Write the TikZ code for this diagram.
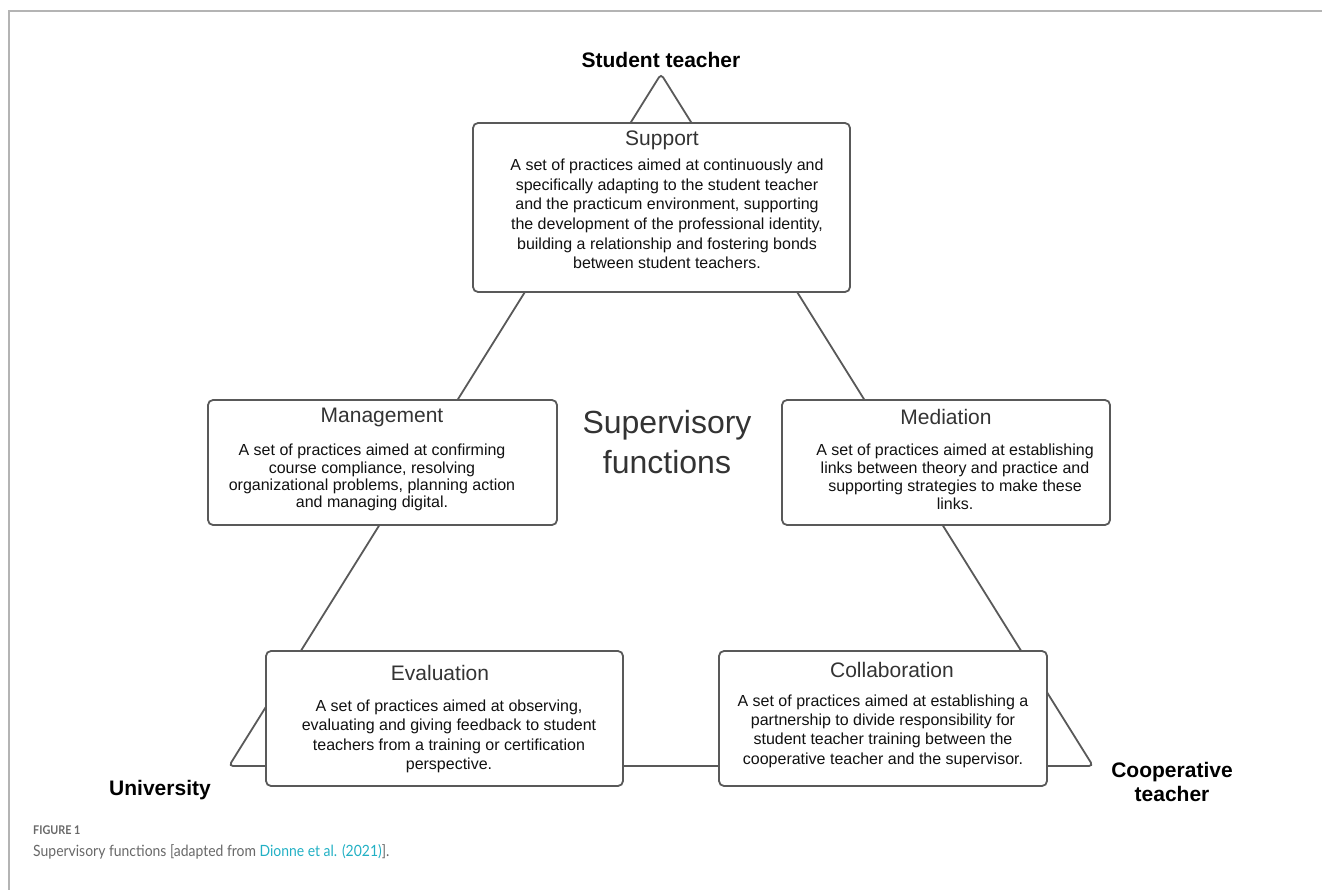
\documentclass[tikz,border=0pt]{standalone}
\usepackage{fontspec}
\setmainfont{Liberation Sans}
\newfontfamily\capfont[FakeStretch=0.9]{Lato}
\usetikzlibrary{calc}
\definecolor{edgec}{HTML}{595959}
\definecolor{framec}{HTML}{B4B4B4}
\definecolor{titlec}{HTML}{333333}
\definecolor{bodyc}{HTML}{111111}
\definecolor{capc}{HTML}{686868}
\definecolor{linkc}{HTML}{22B0C4}
\begin{document}
\begin{tikzpicture}[x=1pt,y=-1pt,
  box/.style={draw=edgec, line width=1.8pt, rounded corners=5pt, fill=white, inner sep=0pt},
  head/.style={text=titlec, font=\fontsize{21}{25}\selectfont, inner sep=0pt},
  body/.style={text=bodyc, align=center, inner sep=0pt},
  role/.style={font=\bfseries\fontsize{21}{23.5}\selectfont, align=center, inner sep=0pt}]

\useasboundingbox (0,0) rectangle (1322,890);
% page frame
\draw[framec, line width=2pt] (9,890) -- (9,11) -- (1322,11);

% the supervision triangle behind the boxes
\coordinate (apex) at (661,74);
\coordinate (lc) at (229,766);
\coordinate (rc) at (1093,766);
\draw[edgec, line width=1.8pt, rounded corners=4pt] (apex) -- (rc) -- (lc) -- cycle;

% function boxes
\node[box, minimum width=377pt, minimum height=169pt] (support) at (661.5,207.5) {};
\node[box, minimum width=349pt, minimum height=125pt] (manage) at (382.5,462.5) {};
\node[box, minimum width=328pt, minimum height=125pt] (mediate) at (946,462.5) {};
\node[box, minimum width=357pt, minimum height=135pt] (evaluate) at (444.5,718.5) {};
\node[box, minimum width=328pt, minimum height=135pt] (collab) at (883,718.5) {};

% titles
\node[head] (supportT) at (662,140) {Support};
\node[head] (manageT) at (382,417) {Management};
\node[head] (mediateT) at (946,417) {Mediation};
\node[head] (evaluateT) at (440,673) {Evaluation};
\node[head] (collabT) at (892,670) {Collaboration};

% descriptions
\node[body, font=\fontsize{16}{19.7}\selectfont] (supportB) at (667,214)
  {A set of practices aimed at continuously and\\
   specifically adapting to the student teacher\\
   and the practicum environment, supporting\\
   the development of the professional identity,\\
   building a relationship and fostering bonds\\
   between student teachers.};
\node[body, font=\fontsize{16}{17.2}\selectfont] (manageB) at (372,477.5)
  {A set of practices aimed at confirming\\
   course compliance, resolving\\
   organizational problems, planning action\\
   and managing digital.};
\node[body, font=\fontsize{16}{18}\selectfont] (mediateB) at (955,477)
  {A set of practices aimed at establishing\\
   links between theory and practice and\\
   supporting strategies to make these\\
   links.};
\node[body, font=\fontsize{16}{19.3}\selectfont] (evaluateB) at (449,736.5)
  {A set of practices aimed at observing,\\
   evaluating and giving feedback to student\\
   teachers from a training or certification\\
   perspective.};
\node[body, font=\fontsize{16}{19.3}\selectfont] (collabB) at (883,731)
  {A set of practices aimed at establishing a\\
   partnership to divide responsibility for\\
   student teacher training between the\\
   cooperative teacher and the supervisor.};

% centre title
\node[text=titlec, font=\fontsize{32}{40}\selectfont, align=center, inner sep=0pt] (sf) at (667,442)
  {Supervisory\\functions};

% roles at the corners
\node[role] (st) at (661,60) {Student teacher};
\node[role] (uni) at (160,790) {University};
\node[role] (coop) at (1172,782) {Cooperative\\teacher};

% caption
\node[anchor=west, inner sep=0pt, font=\capfont\bfseries\fontsize{12}{14}\selectfont, text=capc] (fig) at (33,830) {FIGURE 1};
\node[anchor=west, inner sep=0pt, font=\capfont\fontsize{15.5}{18}\selectfont, text=capc] (cap) at (33,852)
  {Supervisory functions [adapted from \textcolor{linkc}{Dionne et al. (2021)}].};
\end{tikzpicture}
\end{document}
